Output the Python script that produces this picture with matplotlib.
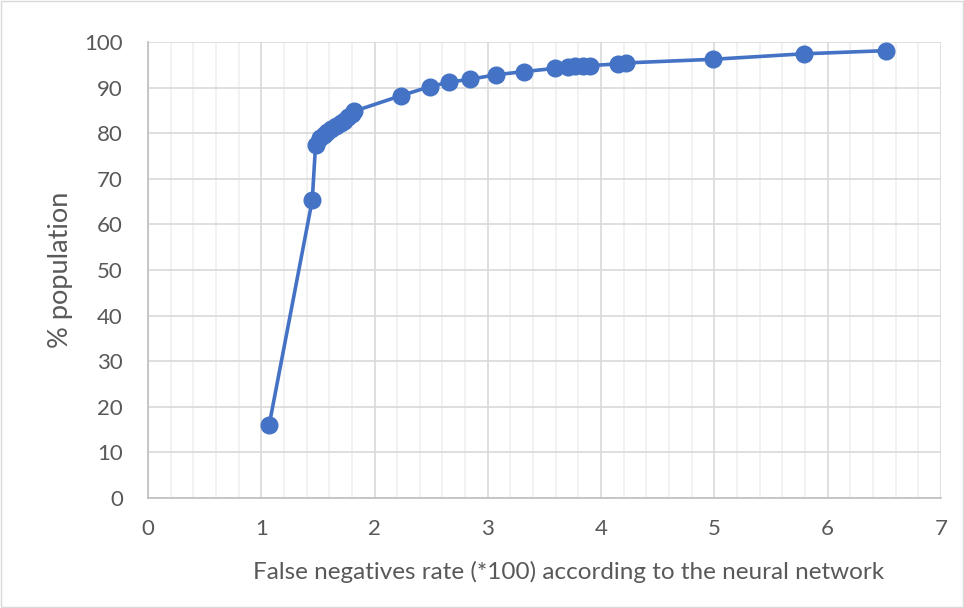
import matplotlib.pyplot as plt
from matplotlib.ticker import MultipleLocator
from matplotlib.patches import Rectangle

# Dados
fn_rate = [1.07, 1.45, 1.48, 1.52, 1.55, 1.58, 1.62, 1.66, 1.70, 1.73, 1.77, 1.80, 1.82,
           2.23, 2.49, 2.66, 2.84, 3.07, 3.32, 3.59, 3.71, 3.77, 3.84, 3.90,
           4.15, 4.22, 4.99, 5.79, 6.52]
population = [16.0, 65.3, 77.5, 79.0, 79.6, 80.3, 80.9, 81.5, 82.2, 82.7, 83.6, 84.2, 84.8,
              88.2, 90.2, 91.2, 91.8, 92.8, 93.5, 94.2, 94.6, 94.7, 94.7, 94.8,
              95.2, 95.4, 96.2, 97.4, 98.1]
x_ticks = [0, 1, 2, 3, 4, 5, 6, 7]
y_ticks = [0, 10, 20, 30, 40, 50, 60, 70, 80, 90, 100]

plt.rcParams['font.family'] = ['Lato', 'DejaVu Sans']
grey = '#595959'

fig = plt.figure(figsize=(9.64, 6.08), dpi=100)
ax = fig.add_axes([0.1535, 0.181, 0.8225, 0.750])

ax.plot(fn_rate, population, marker='o', color='#4472C4', linewidth=2.6,
        markersize=12, zorder=3)

ax.set_xlim(0, 7)
ax.set_ylim(0, 100)
ax.set_xticks(x_ticks)
ax.set_yticks(y_ticks)
ax.xaxis.set_minor_locator(MultipleLocator(0.2))

ax.grid(True, which='major', color='#D9D9D9', linewidth=1.2)
ax.grid(True, which='minor', axis='x', color='#F0F0F0', linewidth=1.2)
ax.set_axisbelow(True)

for s in ['top', 'right']:
    ax.spines[s].set_visible(False)
for s in ['left', 'bottom']:
    ax.spines[s].set_color('#BFBFBF')
    ax.spines[s].set_linewidth(1.2)

ax.tick_params(axis='y', which='both', length=0, labelsize=16, colors=grey, pad=18)
ax.tick_params(axis='x', which='both', length=0, labelsize=16, colors=grey, pad=15)
ax.set_xlabel('False negatives rate (*100) according to the neural network',
              fontsize=17.5, color=grey)
ax.xaxis.set_label_coords(0.531, -0.137)
ax.set_ylabel('% population', fontsize=19.5, color=grey, labelpad=8)

# borda do gráfico
fig.patches.append(Rectangle((0.001, 0.001), 0.998, 0.997, transform=fig.transFigure,
                             fill=False, edgecolor='#D9D9D9', linewidth=1))

plt.savefig('out.png', dpi=100)
